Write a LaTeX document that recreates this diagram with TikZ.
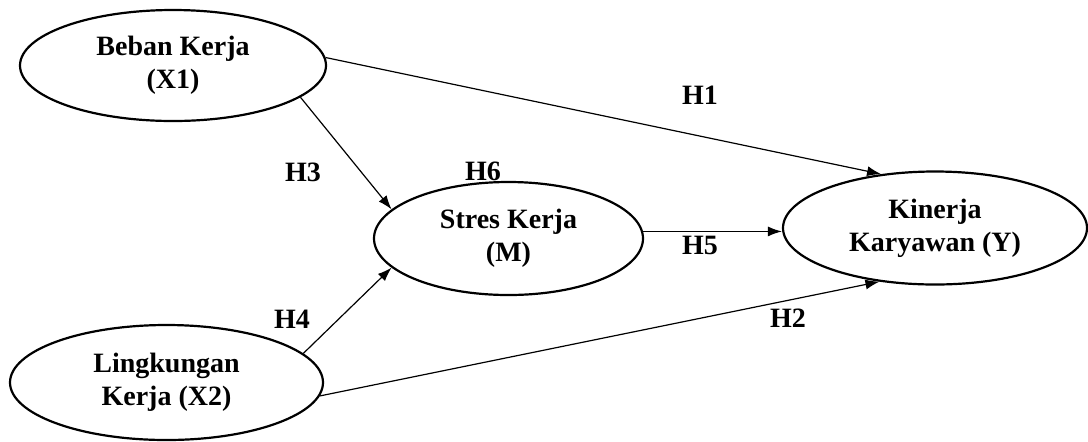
\documentclass[tikz,border=0pt]{standalone}
\usepackage{fontspec}
\setmainfont{Liberation Serif}
\usetikzlibrary{positioning,arrows.meta,calc,shapes.geometric}

\begin{document}
\begin{tikzpicture}[
    x=0.5pt, y=-0.5pt,
    var/.style={draw, ellipse, line width=1.1pt, inner sep=0pt, align=center, font=\fontsize{14}{16.5}\selectfont\bfseries},
    hyp/.style={font=\fontsize{14}{16.5}\selectfont\bfseries},
    path/.style={line width=0.6pt, -{Latex[length=7pt,width=5pt]}},
  ]
  \useasboundingbox (0,0) rectangle (1088,441);
  \node[var, minimum width=153pt, minimum height=55.5pt] (x1) at (173,65.5) {Beban Kerja\\(X1)};
  \node[var, minimum width=156.5pt, minimum height=57.5pt] (x2) at (166.5,382.5) {Lingkungan\\Kerja (X2)};
  \node[var, minimum width=134.5pt, minimum height=56.5pt] (m) at (508.5,238.5) {Stres Kerja\\(M)};
  \node[var, minimum width=152pt, minimum height=56.5pt] (y) at (935,228) {Kinerja\\Karyawan (Y)};
  % paths
  \draw[path] (x1.3) -- (y.135);
  \draw[path] (x1.-14) -- (m.166);
  \draw[path] (x2.12) -- (m.194);
  \draw[path] (x2.-5) -- (y.224);
  \draw[path] (m.3) -- (m.3 -| y.west);
  % hypothesis labels
  \node[hyp] (h1) at (700,95) {H1};
  \node[hyp] (h2) at (788,318) {H2};
  \node[hyp] (h3) at (303,172) {H3};
  \node[hyp] (h4) at (292,319) {H4};
  \node[hyp] (h5) at (700,245) {H5};
  \node[hyp] (h6) at (483,171) {H6};
\end{tikzpicture}
\end{document}
